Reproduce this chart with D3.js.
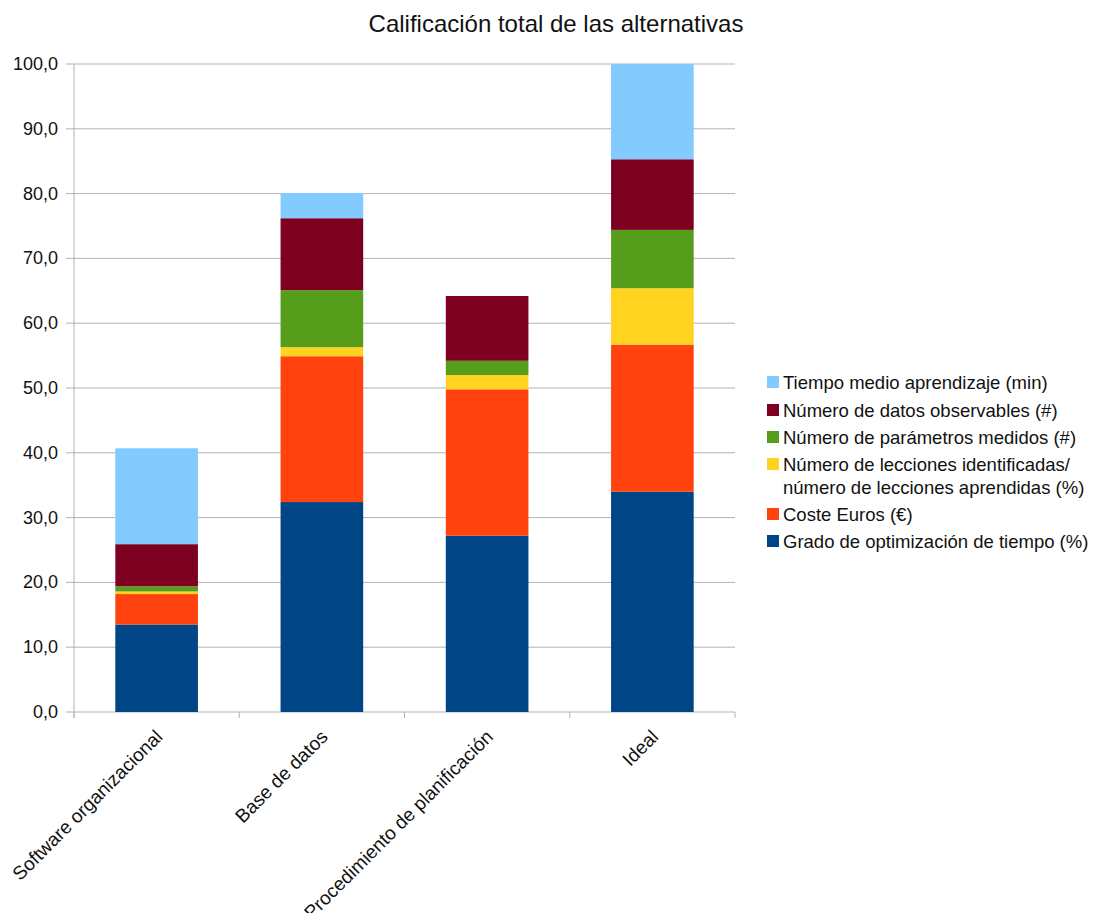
<!DOCTYPE html>
<html>
<head>
<meta charset="utf-8">
<script src="https://cdn.jsdelivr.net/npm/d3@7"></script>
<style>
  body { margin: 0; background: #fff; }
  text { font-family: "Liberation Sans", Arial, sans-serif; fill: #111; }
</style>
</head>
<body>
<svg id="chart" width="1096" height="913"></svg>
<script>
// categories on the x axis
var categories = ['Software organizacional', 'Base de datos', 'Procedimiento de planificación', 'Ideal'];

// series, bottom to top of each stack
var seriesNames = [
  'Grado de optimización de tiempo (%)',
  'Coste Euros (€)',
  'Número de lecciones identificadas/\nnúmero de lecciones aprendidas (%)',
  'Número de parámetros medidos (#)',
  'Número de datos observables (#)',
  'Tiempo medio aprendizaje (min)'
];
var seriesColors = ['#004586', '#ff420e', '#ffd320', '#579d1c', '#7e0021', '#83caff'];

var grado = [13.5, 32.4, 27.2, 34.0];
var coste = [4.7, 22.5, 22.6, 22.7];
var lecciones = [0.4, 1.4, 2.2, 8.7];
var parametros = [0.8, 8.8, 2.2, 9.0];
var datosObs = [6.5, 11.1, 10.0, 10.9];
var tiempoMedio = [14.8, 3.9, 0.0, 14.7];

var yTicks = [0, 10, 20, 30, 40, 50, 60, 70, 80, 90, 100];

var seriesValues = [grado, coste, lecciones, parametros, datosObs, tiempoMedio];

var rows = categories.map(function(c, i) {
  var r = {cat: c};
  seriesValues.forEach(function(s, k) { r['s' + k] = s[i]; });
  return r;
});
var keys = seriesNames.map(function(d, k) { return 's' + k; });
var stacked = d3.stack().keys(keys)(rows);

var svg = d3.select('#chart');
var plotLeft = 74, plotRight = 735, plotTop = 64, plotBottom = 712;

var x = d3.scaleBand().domain(categories).range([plotLeft, plotRight]).paddingInner(0.5).paddingOuter(0.25);
var y = d3.scaleLinear().domain([0, 100]).range([plotBottom, plotTop]);

// title
svg.append('text')
  .attr('x', 556).attr('y', 32)
  .attr('text-anchor', 'middle')
  .style('font-size', '24px')
  .text('Calificación total de las alternativas');

// gridlines
svg.append('g')
  .selectAll('line')
  .data(yTicks)
  .enter()
  .append('line')
  .attr('x1', plotLeft - 8).attr('x2', plotRight)
  .attr('y1', d => y(d)).attr('y2', d => y(d))
  .style('stroke', '#b3b3b3')
  .style('stroke-width', 1);

// y axis line
svg.append('line')
  .attr('x1', plotLeft).attr('x2', plotLeft)
  .attr('y1', plotTop).attr('y2', plotBottom + 6)
  .style('stroke', '#b3b3b3');

// category ticks
var bounds = [plotLeft].concat(categories.map(c => x(c) + x.bandwidth() + x.step() * 0.25));
svg.append('g')
  .selectAll('line')
  .data(bounds)
  .enter()
  .append('line')
  .attr('x1', d => d).attr('x2', d => d)
  .attr('y1', plotBottom).attr('y2', plotBottom + 6)
  .style('stroke', '#b3b3b3');

// y labels
svg.append('g')
  .selectAll('text')
  .data(yTicks)
  .enter()
  .append('text')
  .attr('x', 58)
  .attr('y', d => y(d) + 6)
  .attr('text-anchor', 'end')
  .style('font-size', '18px')
  .text(d => d3.format('.1f')(d).replace('.', ','));

// bars
svg.append('g')
  .selectAll('g')
  .data(stacked)
  .enter()
  .append('g')
  .style('fill', (d, i) => seriesColors[i])
  .selectAll('rect')
  .data(d => d)
  .enter()
  .append('rect')
  .attr('x', d => x(d.data.cat))
  .attr('width', x.bandwidth())
  .attr('y', d => y(d[1]))
  .attr('height', d => y(d[0]) - y(d[1]));

// category labels
svg.append('g')
  .selectAll('text')
  .data(categories)
  .enter()
  .append('text')
  .attr('transform', d => `translate(${x(d) + x.bandwidth() / 2 + 7},${plotBottom + 26}) rotate(-45)`)
  .attr('text-anchor', 'end')
  .style('font-size', '19px')
  .text(d => d);

// legend, top entry is the last series
var legend = svg.append('g');
var legendY = [382, 410, 437, 464, 514, 541];
var order = [5, 4, 3, 2, 1, 0];
order.forEach(function(k, i) {
  var yy = legendY[i];
  legend.append('rect')
    .attr('x', 767).attr('y', yy - 6)
    .attr('width', 12).attr('height', 12)
    .style('fill', seriesColors[k]);
  var lines = seriesNames[k].split('\n');
  lines.forEach(function(line, j) {
    legend.append('text')
      .attr('x', 783).attr('y', yy + 7 + j * 23)
      .style('font-size', '18.5px')
      .text(line);
  });
});
</script>
</body>
</html>
